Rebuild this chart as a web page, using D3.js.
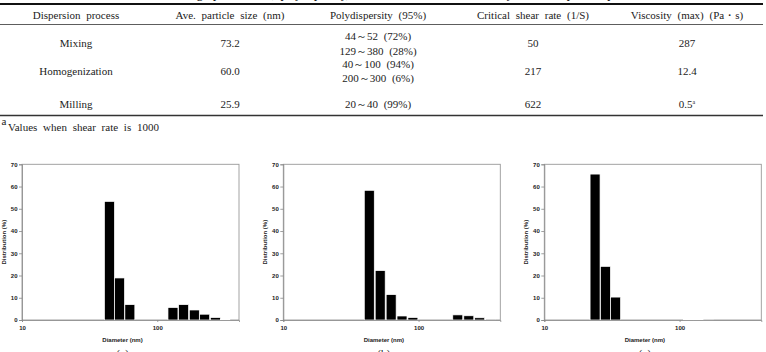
<!DOCTYPE html>
<html>
<head>
<meta charset="utf-8">
<script src="https://cdn.jsdelivr.net/npm/d3@7"></script>
<style>
  body { margin: 0; background: #fff; }
  svg { display: block; }
  .tb { font-family: "Liberation Serif", "Times New Roman", serif; font-size: 11px; fill: #222; word-spacing: 3px; }
  .ax text { font-family: "Liberation Sans", Arial, sans-serif; font-weight: bold; font-size: 6px; fill: #222; }
  .ax path, .ax line { stroke: #888; stroke-width: 0.8; }
</style>
</head>
<body>
<div id="chart"></div>
<script>
// 表格数据
const tableTitle = "Table 1. Average particle size, polydispersity, critical shear rate and viscosity of the dispersion process"
const headers = ["Dispersion process", "Ave. particle size (nm)", "Polydispersity (95%)", "Critical shear rate (1/S)", "Viscosity (max) (Pa・s)"]
const processes = ["Mixing", "Homogenization", "Milling"]
const aveSize = ["73.2", "60.0", "25.9"]
const polyRanges = [["44～52 (72%)", "129～380 (28%)"], ["40～100 (94%)", "200～300 (6%)"], ["20～40 (99%)"]]
const shearRate = ["50", "217", "622"]
const viscosity = ["287", "12.4", "0.5"]
const viscosityNote = [null, null, "a"]
const footnote = "Values when shear rate is 1000"

// 粒径分布数据 (bin 下限 nm, 分布 %)
const diamA = [40.7, 48.3, 57.6, 120, 143.8, 172.6, 205.8, 247, 294]
const distA = [53.3, 18.9, 6.9, 5.6, 6.9, 4.5, 2.6, 1.1, 0.3]
const diamB = [39.7, 47.8, 57.6, 69.3, 83.4, 179, 216, 259.6, 312.5]
const distB = [58.3, 22.2, 11.4, 1.8, 1.1, 2.3, 1.9, 1.0, 0.4]
const diamC = [21.8, 26.0, 30.9, 107, 127, 150]
const distC = [65.6, 24.1, 10.3, 0.2, 0.2, 0.15]
const binStep = 1.185 // 每个 bin 上限/下限
const panelLabels = ["(a)", "(b)", "(c)"]
const xTicks = [10, 100]
const yTicks = [0, 10, 20, 30, 40, 50, 60, 70]

const width = 766, height = 352
const svg = d3.select("#chart").append("svg")
    .attr("width", width)
    .attr("height", height)

// ---- 表格 ----
// 标题只露出底部一点（原图被裁掉）
svg.append("text")
    .attr("class", "tb")
    .attr("x", 383).attr("y", -0.8)
    .attr("text-anchor", "middle")
    .attr("font-weight", "bold")
    .text(tableTitle)

const lineX1 = 0, lineX2 = 763
svg.append("line").attr("x1", lineX1).attr("x2", lineX2).attr("y1", 4).attr("y2", 4)
    .attr("stroke", "#111").attr("stroke-width", 2)
svg.append("line").attr("x1", lineX1).attr("x2", lineX2).attr("y1", 24.5).attr("y2", 24.5)
    .attr("stroke", "#333").attr("stroke-width", 0.8)
svg.append("line").attr("x1", lineX1).attr("x2", lineX2).attr("y1", 115.5).attr("y2", 115.5)
    .attr("stroke", "#333").attr("stroke-width", 1.3)

const colX = [76, 230, 378, 533, 687]
const rowY = [43.5, 71, 104]

svg.append("g").selectAll("text")
    .data(headers)
    .enter().append("text")
    .attr("class", "tb")
    .attr("x", (d, i) => colX[i])
    .attr("y", 15)
    .attr("dy", "0.35em")
    .attr("text-anchor", "middle")
    .text(d => d)

const rows = svg.append("g").selectAll("g")
    .data(processes)
    .enter().append("g")

rows.each(function(p, i) {
    const g = d3.select(this)
    const cells = [p, aveSize[i], null, shearRate[i], viscosity[i]]
    cells.forEach((c, j) => {
        if (c === null) return
        const t = g.append("text")
            .attr("class", "tb")
            .attr("x", colX[j])
            .attr("y", rowY[i])
            .attr("dy", "0.35em")
            .attr("text-anchor", "middle")
            .text(c)
        if (j === 4 && viscosityNote[i]) {
            t.append("tspan")
                .attr("font-size", "6px")
                .attr("dy", "-0.6em")
                .text(viscosityNote[i])
        }
    })
    const lines = polyRanges[i]
    const off = lines.length === 1 ? [0] : [-7, 7.5]
    lines.forEach((s, k) => {
        g.append("text")
            .attr("class", "tb")
            .attr("x", colX[2])
            .attr("y", rowY[i] + off[k])
            .attr("dy", "0.35em")
            .attr("text-anchor", "middle")
            .text(s)
    })
})

// 脚注
svg.append("text").attr("class", "tb")
    .attr("x", 1.5).attr("y", 124.5)
    .attr("font-size", "5.5px")
    .text("a")
svg.append("text").attr("class", "tb")
    .attr("x", 8).attr("y", 127.5)
    .attr("dy", "0.35em")
    .attr("font-size", "10px")
    .text(footnote)

// ---- 直方图 ----
const panels = [
    {left: 22, diam: diamA, dist: distA},
    {left: 283.3, diam: diamB, dist: distB},
    {left: 544.3, diam: diamC, dist: distC}
]
const plotW = 217, plotTop = 164.3, plotBottom = 320

panels.forEach((p, i) => {
    const x = d3.scaleLog().domain([10, 402]).range([p.left, p.left + plotW])
    const y = d3.scaleLinear().domain([0, 70]).range([plotBottom, plotTop])
    const g = svg.append("g")

    // 边框
    g.append("rect")
        .attr("x", p.left).attr("y", plotTop)
        .attr("width", plotW).attr("height", plotBottom - plotTop)
        .attr("fill", "none")
        .attr("stroke", "#999")
        .attr("stroke-width", 0.9)

    // 柱子
    g.append("g").selectAll("rect")
        .data(p.diam)
        .enter().append("rect")
        .attr("x", d => x(d))
        .attr("width", d => x(d * binStep) - x(d))
        .attr("y", (d, k) => y(p.dist[k]))
        .attr("height", (d, k) => y(0) - y(p.dist[k]))
        .attr("fill", "#000")
        .attr("stroke", "#fff")
        .attr("stroke-width", 0.7)

    // 坐标轴
    g.append("g")
        .attr("class", "ax")
        .attr("transform", `translate(${p.left},0)`)
        .call(d3.axisLeft(y).tickValues(yTicks).tickSize(3).tickPadding(1.5).tickFormat(d3.format("d")))
    g.append("g")
        .attr("class", "ax")
        .attr("transform", `translate(0,${plotBottom})`)
        .call(d3.axisBottom(x).tickValues(xTicks).tickSize(2).tickPadding(4).tickFormat(d3.format("d")))

    g.append("text")
        .attr("transform", `translate(${p.left - 18},${(plotTop + plotBottom) / 2}) rotate(-90)`)
        .attr("text-anchor", "middle")
        .attr("dy", "0.35em")
        .style("font-family", "'Liberation Sans', Arial, sans-serif")
        .style("font-weight", "bold")
        .style("font-size", "6px")
        .attr("fill", "#222")
        .text("Distribution (%)")
    g.append("text")
        .attr("x", p.left + plotW / 2 - 8)
        .attr("y", plotBottom + 19.5)
        .attr("text-anchor", "middle")
        .attr("dy", "0.35em")
        .style("font-family", "'Liberation Sans', Arial, sans-serif")
        .style("font-weight", "bold")
        .style("font-size", "6px")
        .attr("fill", "#222")
        .text("Diameter (nm)")
    g.append("text")
        .attr("x", p.left + plotW / 2 - 8)
        .attr("y", 357)
        .attr("text-anchor", "middle")
        .attr("class", "tb")
        .attr("font-size", "11px")
        .text(panelLabels[i])
})
</script>
</body>
</html>
